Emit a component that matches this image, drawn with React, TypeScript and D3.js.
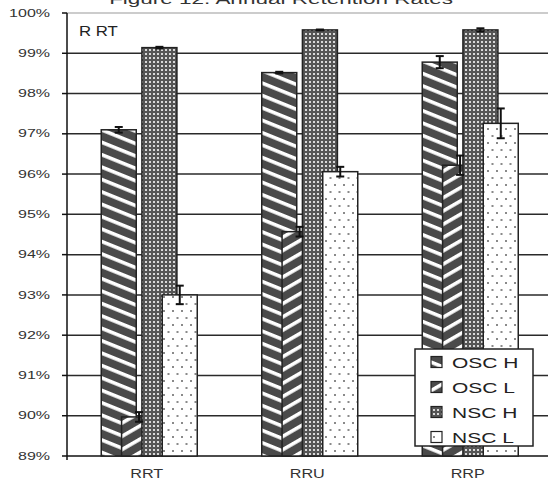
import React, { useEffect, useRef } from 'react'
import * as d3 from 'd3'

const categories = ['RRT', 'RRU', 'RRP']
const series = ['OSC H', 'OSC L', 'NSC H', 'NSC L']
const oscH = [97.1, 98.52, 98.78]
const oscL = [89.97, 94.57, 96.22]
const nscH = [99.14, 99.58, 99.58]
const nscL = [93.0, 96.06, 97.26]
const oscHErr = [0.07, 0.02, 0.15]
const oscLErr = [0.12, 0.12, 0.24]
const nscHErr = [0.02, 0.01, 0.04]
const nscLErr = [0.23, 0.12, 0.37]
const yTicks = [89, 90, 91, 92, 93, 94, 95, 96, 97, 98, 99, 100]

const W = 548
const H = 482
const FONT = '"Liberation Sans", Arial, sans-serif'

export default function App() {
  const svgRef = useRef<SVGSVGElement>(null)

  useEffect(() => {
    document.body.style.margin = '0'
    if (!svgRef.current) return
    const svg = d3.select(svgRef.current)
    svg.selectAll('*').remove()

    const values = [oscH, oscL, nscH, nscL]
    const errs = [oscHErr, oscLErr, nscHErr, nscLErr]
    const fills = ['url(#pOscH)', 'url(#pOscL)', 'url(#pNscH)', 'url(#pNscL)']

    const y = d3.scaleLinear().domain([89, 100]).range([456, 13])
    const x = d3.scaleBand().domain(categories).range([68.5, 550])
    const x1 = d3.scalePoint().domain(series).range([-30, 31])
    const barW = 35
    const axisX = 67

    // patterns
    const defs = svg.append('defs')
    const stripes = (id: string, angle: number) => {
      const p = defs.append('pattern')
        .attr('id', id)
        .attr('patternUnits', 'userSpaceOnUse')
        .attr('width', 12)
        .attr('height', 11.5)
        .attr('patternTransform', `rotate(${angle})`)
      p.append('rect').attr('width', 12).attr('height', 11.5).attr('fill', '#4a4a4a')
      p.append('rect').attr('y', 0).attr('width', 12).attr('height', 3.6).attr('fill', '#fff')
    }
    stripes('pOscH', 22)
    stripes('pOscL', -30)

    const ph = defs.append('pattern')
      .attr('id', 'pNscH')
      .attr('patternUnits', 'userSpaceOnUse')
      .attr('width', 4).attr('height', 4)
    ph.append('rect').attr('width', 4).attr('height', 4).attr('fill', '#555')
    ph.append('rect').attr('x', 1).attr('y', 1).attr('width', 2).attr('height', 2).attr('fill', '#d8d8d8')

    const pl = defs.append('pattern')
      .attr('id', 'pNscL')
      .attr('patternUnits', 'userSpaceOnUse')
      .attr('width', 9).attr('height', 14)
    pl.append('rect').attr('width', 9).attr('height', 14).attr('fill', '#fff')
    pl.append('rect').attr('x', 1).attr('y', 2).attr('width', 2).attr('height', 2).attr('fill', '#8a8a8a')
    pl.append('rect').attr('x', 5.5).attr('y', 9).attr('width', 2).attr('height', 2).attr('fill', '#8a8a8a')

    svg.append('rect').attr('width', W).attr('height', H).attr('fill', '#fff')

    // title, cut at the top
    svg.append('text')
      .attr('transform', `translate(281,4) scale(1.5,1)`)
      .attr('text-anchor', 'middle')
      .style('font-family', FONT)
      .style('font-size', '15px')
      .attr('fill', '#333')
      .text('Figure 12: Annual Retention Rates')

    // plot border top
    svg.append('line')
      .attr('x1', axisX).attr('x2', W)
      .attr('y1', y(100)).attr('y2', y(100))
      .attr('stroke', '#999').attr('stroke-width', 1.2)

    // gridlines
    svg.append('g').selectAll('line')
      .data(yTicks.filter(t => t < 100))
      .enter().append('line')
      .attr('x1', axisX).attr('x2', W)
      .attr('y1', d => y(d)).attr('y2', d => y(d))
      .attr('stroke', d => (d === 89 ? '#111' : '#2a2a2a'))
      .attr('stroke-width', 1.5)

    // y axis
    svg.append('line')
      .attr('x1', axisX).attr('x2', axisX)
      .attr('y1', y(100)).attr('y2', y(89) + 4)
      .attr('stroke', '#111').attr('stroke-width', 1.5)
    const ticks = svg.append('g').selectAll('g')
      .data(yTicks)
      .enter().append('g')
    ticks.append('line')
      .attr('x1', axisX - 5).attr('x2', axisX)
      .attr('y1', d => y(d)).attr('y2', d => y(d))
      .attr('stroke', '#111').attr('stroke-width', 1.5)
    ticks.append('text')
      .attr('transform', d => `translate(50,${y(d) + 3.6}) scale(1.6,1)`)
      .attr('text-anchor', 'end')
      .style('font-family', FONT)
      .style('font-size', '10px')
      .attr('fill', '#333')
      .text(d => `${d}%`)

    // bars
    const bars = svg.append('g')
    categories.forEach((c, ci) => {
      series.forEach((s, si) => {
        const cx = (x(c) as number) + x.bandwidth() / 2 + (x1(s) as number)
        bars.append('rect')
          .attr('x', cx - barW / 2)
          .attr('y', y(values[si][ci]))
          .attr('width', barW)
          .attr('height', y(89) - y(values[si][ci]))
          .attr('fill', fills[si])
          .attr('stroke', '#222')
          .attr('stroke-width', 1.5)
      })
    })

    // error bars
    const eb = svg.append('g').attr('stroke', '#111').attr('stroke-width', 2)
    categories.forEach((c, ci) => {
      series.forEach((s, si) => {
        const cx = (x(c) as number) + x.bandwidth() / 2 + (x1(s) as number)
        const v = values[si][ci]
        const e = errs[si][ci]
        eb.append('line').attr('x1', cx).attr('x2', cx).attr('y1', y(v + e)).attr('y2', y(v - e))
        eb.append('line').attr('x1', cx - 4).attr('x2', cx + 4).attr('y1', y(v + e)).attr('y2', y(v + e))
        eb.append('line').attr('x1', cx - 4).attr('x2', cx + 4).attr('y1', y(v - e)).attr('y2', y(v - e))
      })
    })

    // category labels
    svg.append('g').selectAll('text')
      .data(categories)
      .enter().append('text')
      .attr('transform', d => `translate(${(x(d) as number) + x.bandwidth() / 2 - 2},478) scale(1.35,1)`)
      .attr('text-anchor', 'middle')
      .style('font-family', FONT)
      .style('font-size', '12px')
      .attr('fill', '#333')
      .text(d => d)

    // inner label
    svg.append('text')
      .attr('transform', 'translate(79,36) scale(1.2,1)')
      .style('font-family', FONT)
      .style('font-size', '14px')
      .attr('fill', '#222')
      .text('R RT')

    // legend
    const lg = svg.append('g')
    lg.append('rect')
      .attr('x', 415).attr('y', 349).attr('width', 118).attr('height', 97)
      .attr('fill', '#fff').attr('stroke', '#222').attr('stroke-width', 1.5)
    series.forEach((s, si) => {
      const cy = 362 + si * 25
      lg.append('rect')
        .attr('x', 431).attr('y', cy - 5.5).attr('width', 11).attr('height', 11)
        .attr('fill', fills[si]).attr('stroke', '#222').attr('stroke-width', 1.2)
      lg.append('text')
        .attr('transform', `translate(452,${cy + 5.5}) scale(1.4,1)`)
        .style('font-family', FONT)
        .style('font-size', '15px')
        .attr('fill', '#222')
        .text(s)
    })
  }, [])

  return <svg ref={svgRef} width={W} height={H} style={{ display: 'block' }} />
}
